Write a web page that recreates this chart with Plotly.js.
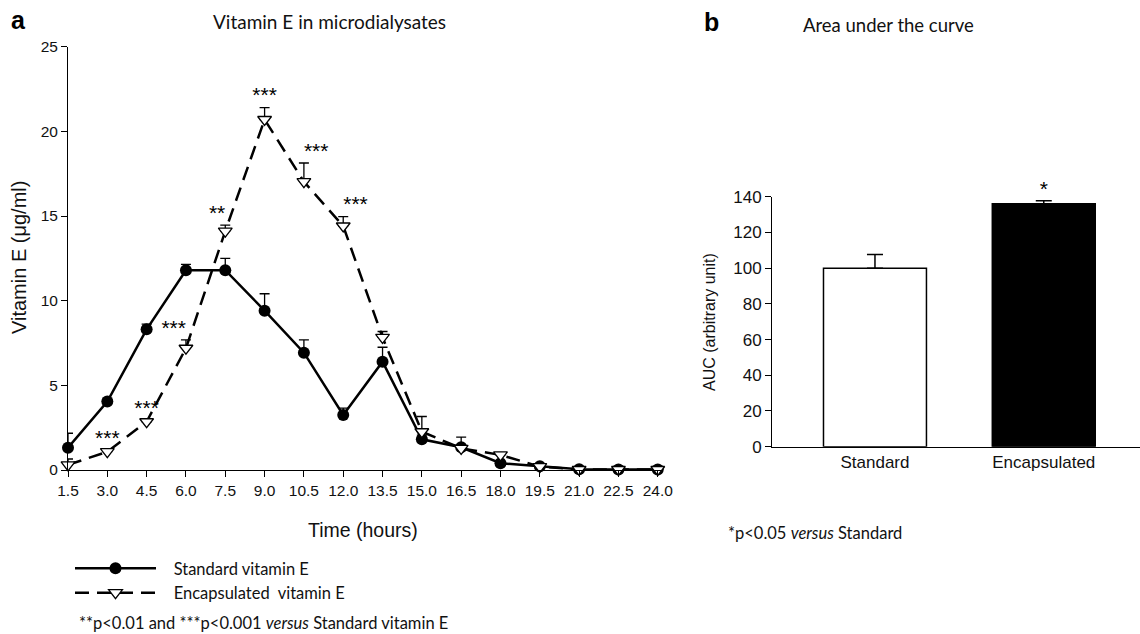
<!DOCTYPE html>
<html>
<head>
<meta charset="utf-8">
<script src="https://cdn.plot.ly/plotly-3.0.1.min.js"></script>
<style>html,body{margin:0;padding:0;background:#fff;}#chart{width:1140px;height:634px;}</style>
</head>
<body>
<div id="chart"></div>
<script>
// ---- Panel a data ----
const times = [1.5, 3.0, 4.5, 6.0, 7.5, 9.0, 10.5, 12.0, 13.5, 15.0, 16.5, 18.0, 19.5, 21.0, 22.5, 24.0];
const timeLabels = ['1.5','3.0','4.5','6.0','7.5','9.0','10.5','12.0','13.5','15.0','16.5','18.0','19.5','21.0','22.5','24.0'];
const standardMean = [1.32, 4.04, 8.31, 11.8, 11.8, 9.41, 6.93, 3.25, 6.40, 1.81, 1.34, 0.40, 0.22, 0.05, 0.03, 0.03];
const standardErr  = [0.85, 0.15, 0.30, 0.35, 0.70, 1.00, 0.75, 0.40, 0.85, 0.25, 0.60, 0.10, 0.10, 0.02, 0.02, 0.02];
const encapMean    = [0.30, 1.08, 2.85, 7.19, 14.11, 20.7, 17.03, 14.41, 7.83, 2.26, 1.28, 0.89, 0.20, 0.03, 0.03, 0.03];
const encapErr     = [0.35, 0.10, 0.10, 0.50, 0.35, 0.70, 1.10, 0.55, 0.35, 0.90, 0.10, 0.10, 0.05, 0.02, 0.02, 0.02];
const encapStars   = ['', '***', '***', '***', '**', '***', '***', '***', '', '', '', '', '', '', '', ''];

// ---- Panel b data ----
const aucCategories = ['Standard', 'Encapsulated'];
const aucMean = [100, 136];
const aucErr  = [7.7, 1.7];
const aucStars = ['', '*'];

const ARIAL = 'Liberation Sans, Arial, sans-serif';
const CAL = 'Lato, Open Sans, sans-serif';
const NB = '\u00a0\u00a0\u00a0';

const starTops = encapMean.map((v, i) => v + encapErr[i]);
const aucTops = aucMean.map((v, i) => v + aucErr[i]);
const starPos = ['top center','top center','top center','top left','top left','top center','top right','top right',
                 'top center','top center','top center','top center','top center','top center','top center','top center'];

const traces = [
  {
    x: times, y: standardMean, type: 'scatter', mode: 'lines+markers',
    name: NB + 'Standard vitamin E',
    line: {color: '#000', width: 2.5},
    marker: {symbol: 'circle', size: 12, color: '#000'},
    error_y: {type: 'data', symmetric: false, array: standardErr, arrayminus: standardErr.map(() => 0), color: '#000', thickness: 1.3, width: 5},
    xaxis: 'x', yaxis: 'y', cliponaxis: false
  },
  {
    x: times, y: encapMean, type: 'scatter', mode: 'lines+markers',
    name: NB + 'Encapsulated\u00a0 vitamin E',
    line: {color: '#000', width: 2.5, dash: '14px,8px'},
    marker: {symbol: 'triangle-down', size: 12, color: '#fff', line: {color: '#000', width: 1.3}},
    error_y: {type: 'data', symmetric: false, array: encapErr, arrayminus: encapErr.map(() => 0), color: '#000', thickness: 1.3, width: 5},
    xaxis: 'x', yaxis: 'y', cliponaxis: false
  },
  {
    x: times, y: starTops, type: 'scatter', mode: 'text', text: encapStars,
    textposition: starPos, textfont: {family: ARIAL, size: 21, color: '#000'},
    showlegend: false, hoverinfo: 'skip', xaxis: 'x', yaxis: 'y', cliponaxis: false
  },
  {
    x: aucCategories, y: aucMean, type: 'bar', width: 0.61,
    marker: {color: ['#fff', '#000'], line: {color: '#000', width: 1.5}},
    error_y: {type: 'data', symmetric: false, array: aucErr, arrayminus: aucErr.map(() => 0), color: '#000', thickness: 1.5, width: 8},
    showlegend: false, xaxis: 'x2', yaxis: 'y2'
  },
  {
    x: aucCategories, y: aucTops, type: 'scatter', mode: 'text', text: aucStars,
    textposition: 'top center', textfont: {family: ARIAL, size: 21, color: '#000'},
    showlegend: false, hoverinfo: 'skip', xaxis: 'x2', yaxis: 'y2', cliponaxis: false
  }
];

const W = 1140, H = 634;
const px = v => v / W;
const py = v => 1 - v / H;

const axisCommon = {
  showgrid: false, zeroline: false, showline: true, linecolor: '#000', linewidth: 1,
  ticks: 'outside', ticklen: 6, tickwidth: 1, tickcolor: '#000', fixedrange: true
};

function note(text, x, y, font, extra) {
  return Object.assign({text: text, x: px(x), y: py(y), xref: 'paper', yref: 'paper',
    xanchor: 'center', yanchor: 'middle', showarrow: false, font: font}, extra || {});
}

const layout = {
  width: W, height: H,
  margin: {l: 0, r: 0, t: 0, b: 0},
  paper_bgcolor: '#fff', plot_bgcolor: '#fff',
  showlegend: true,
  legend: {
    x: px(70), y: py(551), xanchor: 'left', yanchor: 'top',
    font: {family: CAL, size: 16.5, color: '#111'},
    itemwidth: 81, bgcolor: 'rgba(0,0,0,0)', tracegroupgap: 0
  },
  xaxis: Object.assign({}, axisCommon, {
    domain: [px(68), px(663)], range: [1.5, 24.2],
    tickvals: times, ticktext: timeLabels,
    tickfont: {family: ARIAL, size: 15.5, color: '#111'}
  }),
  yaxis: Object.assign({}, axisCommon, {
    domain: [py(470), py(46.7)], range: [0, 25], dtick: 5, tick0: 0,
    tickfont: {family: ARIAL, size: 15.5, color: '#111'}
  }),
  xaxis2: Object.assign({}, axisCommon, {
    domain: [px(772), 1], range: [-0.61, 1.57], ticks: '',
    tickfont: {family: ARIAL, size: 17, color: '#111'}, anchor: 'y2'
  }),
  yaxis2: Object.assign({}, axisCommon, {
    domain: [py(446.7), py(196.7)], range: [0, 140], dtick: 20, tick0: 0,
    tickfont: {family: ARIAL, size: 17, color: '#111'}, anchor: 'x2'
  }),
  annotations: [
    note('<b>a</b>', 18, 20, {family: ARIAL, size: 25, color: '#000'}),
    note('<b>b</b>', 711, 22, {family: ARIAL, size: 25, color: '#000'}),
    note('Vitamin E in microdialysates', 329, 21, {family: CAL, size: 19, color: '#111'}),
    note('Area under the curve', 888, 25, {family: CAL, size: 18.5, color: '#111'}),
    note('Vitamin E (μg/ml)', 19, 258, {family: ARIAL, size: 20, color: '#111'}, {textangle: -90}),
    note('Time (hours)', 363, 530, {family: ARIAL, size: 19.5, color: '#111'}),
    note('AUC (arbitrary unit)', 710, 322, {family: ARIAL, size: 16, color: '#111'}, {textangle: -90}),
    note('**p<0.01 and ***p<0.001 <i>versus</i> Standard vitamin E', 77, 623, {family: CAL, size: 16.5, color: '#111'}, {xanchor: 'left'}),
    note('*p<0.05 <i>versus</i> Standard', 726, 533, {family: CAL, size: 16.5, color: '#111'}, {xanchor: 'left'})
  ]
};

Plotly.newPlot('chart', traces, layout, {staticPlot: true, displayModeBar: false});
</script>
</body>
</html>
